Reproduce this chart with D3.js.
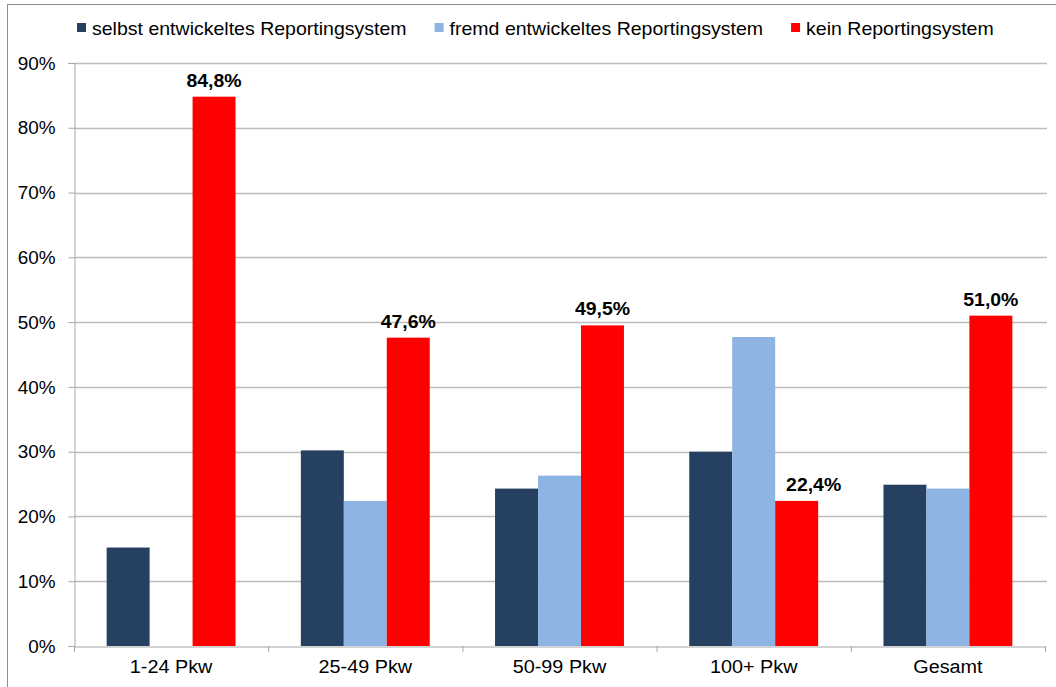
<!DOCTYPE html>
<html>
<head>
<meta charset="utf-8">
<script src="https://cdn.jsdelivr.net/npm/d3@7"></script>
<style>
  body { margin: 0; background: #fff; }
  svg text { font-family: "Liberation Sans", Arial, sans-serif; fill: #000; }
  .val { font-weight: bold; }
</style>
</head>
<body>
<div id="chart"></div>
<script>
// data
var categories = ["1-24 Pkw", "25-49 Pkw", "50-99 Pkw", "100+ Pkw", "Gesamt"]
var seriesNames = ["selbst entwickeltes Reportingsystem", "fremd entwickeltes Reportingsystem", "kein Reportingsystem"]
var selbst = [15.2, 30.2, 24.3, 30.0, 24.9]
var fremd  = [0, 22.4, 26.3, 47.7, 24.3]
var kein   = [84.8, 47.6, 49.5, 22.4, 51.0]
var yTicks = [0, 10, 20, 30, 40, 50, 60, 70, 80, 90]

var colors = ["#264061", "#8eb4e3", "#ff0000"]
var labelNudge = { "100+ Pkw": 17 }   // the 22,4% label sits a bit right in the original

var W = 1056, H = 687
var margin = { left: 74, right: 11, top: 63, bottom: 41 }

// the original is a slightly widened screenshot, so text is stretched a bit
function stretch(sel, k){
    sel.each(function(){
        var len = this.getComputedTextLength()
        this.__len = len * k
        d3.select(this).attr("textLength", len * k).attr("lengthAdjust", "spacingAndGlyphs")
    })
}

var svg = d3.select("#chart").append("svg")
    .attr("width", W)
    .attr("height", H)

// outer frame
svg.append("rect")
    .attr("x", 7.5).attr("y", 4.5)
    .attr("width", W).attr("height", H)
    .attr("fill", "none")
    .attr("stroke", "#8c8c8c")

var values = [selbst, fremd, kein]
var rows = categories.map(function(c, i){
    return { cat: c, vals: seriesNames.map(function(s, j){ return { series: s, idx: j, value: values[j][i], cat: c } }) }
})

var x0 = d3.scaleBand()
    .domain(categories)
    .range([margin.left, W - margin.right])
    .padding(0)

var x1 = d3.scaleBand()
    .domain(seriesNames)
    .range([0, x0.bandwidth()])
    .paddingInner(0)
    .paddingOuter(0.76)

var y = d3.scaleLinear()
    .domain([0, 90])
    .range([H - margin.bottom, margin.top])

// gridlines
svg.append("g")
    .selectAll("line")
    .data(yTicks.slice(1))
    .enter().append("line")
    .attr("x1", margin.left).attr("x2", W - margin.right + 2)
    .attr("y1", function(d){ return Math.round(y(d)) + 0.5 })
    .attr("y2", function(d){ return Math.round(y(d)) + 0.5 })
    .attr("stroke", "#bdbdbd")
    .attr("stroke-width", 1.5)

// y axis
var yAxis = svg.append("g")
    .attr("transform", "translate(" + (margin.left + 0.5) + ",0)")
    .call(d3.axisLeft(y).tickValues(yTicks).tickSize(6).tickPadding(13).tickFormat(function(d){ return d + "%" }))
yAxis.select(".domain").attr("stroke", "#a6a6a6")
yAxis.selectAll(".tick line").attr("stroke", "#a6a6a6")
yAxis.selectAll("text")
    .attr("font-size", "17.5px")
    .attr("font-family", "Liberation Sans, Arial, sans-serif")
    .attr("dy", "0.35em")
    .call(stretch, 1.08)

// bars
var groups = svg.append("g")
    .selectAll("g")
    .data(rows)
    .enter().append("g")
    .attr("transform", function(d){ return "translate(" + x0(d.cat) + ",0)" })

groups.selectAll("rect")
    .data(function(d){ return d.vals })
    .enter().append("rect")
    .attr("x", function(d){ return x1(d.series) })
    .attr("width", x1.bandwidth())
    .attr("y", function(d){ return y(d.value) })
    .attr("height", function(d){ return y(0) - y(d.value) })
    .attr("fill", function(d){ return colors[d.idx] })

// value labels on the red series
var fmt = d3.format(".1f")
groups.selectAll(".val")
    .data(function(d){ return d.vals.filter(function(v){ return v.idx == 2 }) })
    .enter().append("text")
    .attr("class", "val")
    .attr("x", function(d){ return x1(d.series) + x1.bandwidth() / 2 + (labelNudge[d.cat] || 0) })
    .attr("y", function(d){ return y(d.value) - 10 })
    .attr("text-anchor", "middle")
    .attr("font-size", "18.5px")
    .text(function(d){ return fmt(d.value).replace(".", ",") + "%" })
    .call(stretch, 1.05)

// x axis
var xAxis = svg.append("g")
    .attr("transform", "translate(0," + (y(0) + 0.5) + ")")
    .call(d3.axisBottom(x0).tickSize(0).tickPadding(14))
xAxis.select(".domain").attr("stroke", "#a6a6a6")
xAxis.selectAll("text")
    .attr("font-size", "18px")
    .attr("font-family", "Liberation Sans, Arial, sans-serif")
    .attr("dy", "0.71em")
    .call(stretch, 1.1)

// separators between categories
svg.append("g")
    .selectAll("line")
    .data(categories.concat(["end"]))
    .enter().append("line")
    .attr("x1", function(d, i){ return margin.left + i * x0.step() + 0.5 })
    .attr("x2", function(d, i){ return margin.left + i * x0.step() + 0.5 })
    .attr("y1", y(0)).attr("y2", y(0) + 6)
    .attr("stroke", "#a6a6a6")

// legend
var legend = svg.append("g").attr("transform", "translate(77,0)")
var lx = 0
seriesNames.forEach(function(s, i){
    var item = legend.append("g").attr("transform", "translate(" + lx + ",0)")
    item.append("rect")
        .attr("x", 0).attr("y", 23)
        .attr("width", 9).attr("height", 9)
        .attr("fill", colors[i])
    var t = item.append("text")
        .attr("x", 15).attr("y", 35)
        .attr("font-size", "18.5px")
        .text(s)
    t.call(stretch, 1.055)
    lx += 15 + t.node().__len + 28
})
</script>
</body>
</html>
